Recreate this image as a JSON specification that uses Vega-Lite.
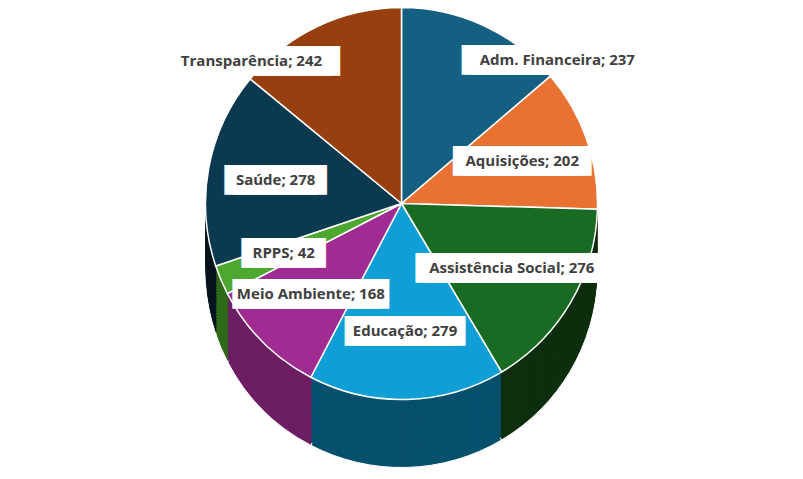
{
  "$schema": "https://vega.github.io/schema/vega-lite/v6.json",
  "autosize": {"type": "fit", "contains": "padding"},
  "width": 803,
  "height": 479,
  "padding": 0,
  "background": "white",
  "config": {"view": {"stroke": null}},
  "data": {
    "values": [
      {"categoria": "Adm. Financeira", "valor": 237},
      {"categoria": "Aquisições", "valor": 202},
      {"categoria": "Assistência Social", "valor": 276},
      {"categoria": "Educação", "valor": 279},
      {"categoria": "Meio Ambiente", "valor": 168},
      {"categoria": "RPPS", "valor": 42},
      {"categoria": "Saúde", "valor": 278},
      {"categoria": "Transparência", "valor": 242}
    ]
  },
  "transform": [
    {"calculate": "datum.categoria + '; ' + datum.valor", "as": "rotulo"},
    {"calculate": "pad('', round(length(datum.rotulo) * 0.8) + 2, '█')", "as": "caixa"}
  ],
  "encoding": {
    "theta": {"field": "valor", "type": "quantitative", "stack": true},
    "order": {"field": "categoria", "type": "ordinal", "sort": "ascending"},
    "color": {"field": "categoria", "type": "nominal", "legend": null,
      "scale": {"domain": ["Adm. Financeira", "Aquisições", "Assistência Social", "Educação", "Meio Ambiente", "RPPS", "Saúde", "Transparência"],
        "range": ["#0b3041", "#7a3a17", "#0e2f0d", "#06506e", "#6d1d64", "#2e6a1a", "#07141f", "#4d1f08"]}}
  },
  "layer": [
    {"mark": {"type": "arc", "radius": 196, "yOffset": 32, "stroke": "white", "strokeWidth": 1}},
    {"mark": {"type": "arc", "radius": 196, "yOffset": 29}},
    {"mark": {"type": "arc", "radius": 196, "yOffset": 26}},
    {"mark": {"type": "arc", "radius": 196, "yOffset": 23}},
    {"mark": {"type": "arc", "radius": 196, "yOffset": 20}},
    {"mark": {"type": "arc", "radius": 196, "yOffset": 17}},
    {"mark": {"type": "arc", "radius": 196, "yOffset": 14}},
    {"mark": {"type": "arc", "radius": 196, "yOffset": 11}},
    {"mark": {"type": "arc", "radius": 196, "yOffset": 8}},
    {"mark": {"type": "arc", "radius": 196, "yOffset": 5}},
    {"mark": {"type": "arc", "radius": 196, "yOffset": 2}},
    {"mark": {"type": "arc", "radius": 196, "yOffset": -1}},
    {"mark": {"type": "arc", "radius": 196, "yOffset": -4}},
    {"mark": {"type": "arc", "radius": 196, "yOffset": -7}},
    {"mark": {"type": "arc", "radius": 196, "yOffset": -10}},
    {"mark": {"type": "arc", "radius": 196, "yOffset": -13}},
    {"mark": {"type": "arc", "radius": 196, "yOffset": -16}},
    {"mark": {"type": "arc", "radius": 196, "yOffset": -19}},
    {"mark": {"type": "arc", "radius": 196, "yOffset": -22}},
    {"mark": {"type": "arc", "radius": 196, "yOffset": -25}},
    {"mark": {"type": "arc", "radius": 196, "yOffset": -28}},
    {"mark": {"type": "arc", "radius": 196, "yOffset": -31}},
    {"mark": {"type": "arc", "radius": 196, "yOffset": -34}},
    {
      "mark": {"type": "arc", "radius": 196, "yOffset": -36, "stroke": "white", "strokeWidth": 1.5},
      "encoding": {
        "color": {"field": "categoria", "type": "nominal", "legend": null,
          "scale": {"domain": ["Adm. Financeira", "Aquisições", "Assistência Social", "Educação", "Meio Ambiente", "RPPS", "Saúde", "Transparência"],
            "range": ["#156082", "#E97132", "#196B24", "#0F9ED5", "#A02B93", "#4EA72E", "#0B3A50", "#973F0F"]}}
      }
    },
    {
      "mark": {"type": "text", "radius": 128, "yOffset": -36, "font": "DejaVu Sans Mono", "fontSize": 15, "baseline": "middle", "align": "center", "fill": "white", "stroke": "white", "strokeWidth": 12, "strokeJoin": "miter"},
      "encoding": {"color": null, "text": {"condition": {"test": "datum.categoria != 'Adm. Financeira' && datum.categoria != 'Transparência'", "field": "caixa"}, "value": ""}}
    },
    {
      "mark": {"type": "text", "radius": 128, "yOffset": -36, "font": "Open Sans", "fontSize": 15, "fontWeight": "bold", "baseline": "middle", "align": "center", "fill": "#404040"},
      "encoding": {"color": null, "text": {"condition": {"test": "datum.categoria != 'Adm. Financeira' && datum.categoria != 'Transparência'", "field": "rotulo"}, "value": ""}}
    },
    {
      "mark": {"type": "text", "radius": 158, "yOffset": -36, "font": "DejaVu Sans Mono", "fontSize": 15, "baseline": "middle", "align": "left", "fill": "white", "stroke": "white", "strokeWidth": 12, "strokeJoin": "miter"},
      "encoding": {"color": null, "text": {"condition": {"test": "datum.categoria == 'Adm. Financeira'", "field": "caixa"}, "value": ""}}
    },
    {
      "mark": {"type": "text", "radius": 158, "yOffset": -36, "dx": 12, "font": "Open Sans", "fontSize": 15, "fontWeight": "bold", "baseline": "middle", "align": "left", "fill": "#404040"},
      "encoding": {"color": null, "text": {"condition": {"test": "datum.categoria == 'Adm. Financeira'", "field": "rotulo"}, "value": ""}}
    },
    {
      "mark": {"type": "text", "radius": 158, "yOffset": -36, "font": "DejaVu Sans Mono", "fontSize": 15, "baseline": "middle", "align": "right", "fill": "white", "stroke": "white", "strokeWidth": 12, "strokeJoin": "miter"},
      "encoding": {"color": null, "text": {"condition": {"test": "datum.categoria == 'Transparência'", "field": "caixa"}, "value": ""}}
    },
    {
      "mark": {"type": "text", "radius": 158, "yOffset": -36, "dx": -12, "font": "Open Sans", "fontSize": 15, "fontWeight": "bold", "baseline": "middle", "align": "right", "fill": "#404040"},
      "encoding": {"color": null, "text": {"condition": {"test": "datum.categoria == 'Transparência'", "field": "rotulo"}, "value": ""}}
    }
  ],
  "resolve": {"scale": {"color": "independent"}}
}
